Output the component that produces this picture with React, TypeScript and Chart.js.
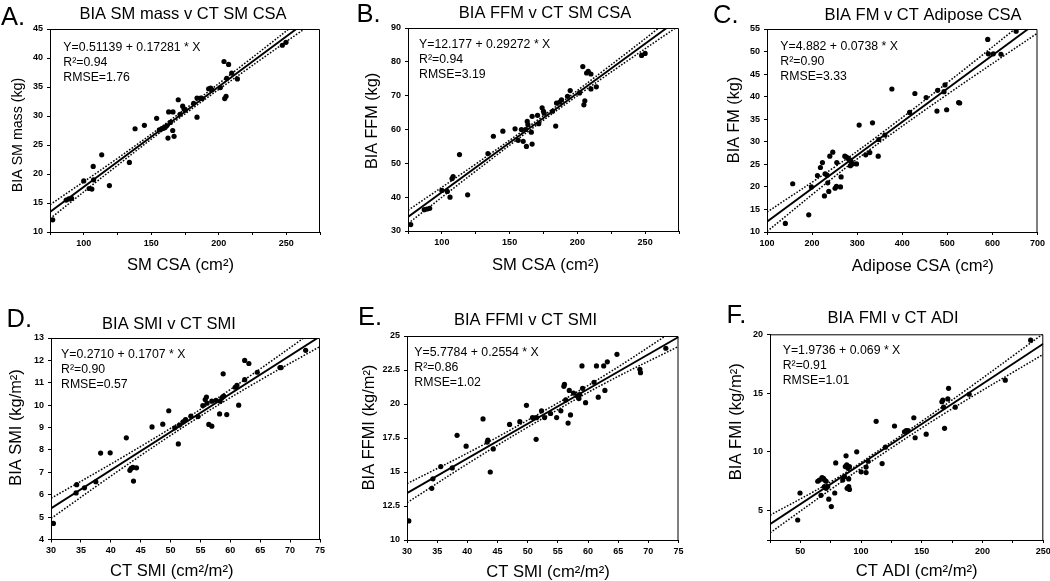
import React, { useEffect, useRef } from "react";
import { Chart, registerables } from "chart.js";

Chart.register(...registerables);

const FONT = "'Liberation Sans', Arial, Helvetica, sans-serif";

// ---------------- DATA ----------------
// Panel A: BIA SM mass v CT SM CSA
const aPoints = [
  [77, 12.1], [87, 15.5], [89, 15.7], [91, 15.8], [100, 18.8], [104, 17.5], [106, 17.4], [107, 21.3],
  [107.3, 19.0], [113.3, 23.3], [119, 18.0], [133.8, 22.0], [138, 27.8], [144.9, 28.4], [154, 29.6],
  [156, 27.6], [157.7, 27.8], [159, 27.9], [160.2, 28.0], [161.4, 28.3], [162.4, 26.2], [162.9, 30.7],
  [166.1, 30.7], [164.1, 28.9], [165.9, 27.5], [166.9, 26.5], [170, 32.8], [171.3, 30.3], [173.3, 31.7],
  [174.3, 31.2], [175.2, 31.0], [181.4, 32.2], [183.9, 29.8], [183.9, 33.1], [186.6, 33.1], [187.8, 33.0],
  [192.5, 34.7], [194, 34.8], [195, 34.5], [201.2, 34.9], [203.9, 39.4], [207.3, 38.9], [204.4, 33.0],
  [205.4, 33.4], [205.9, 36.5], [209.6, 37.4], [213.8, 36.4], [247.1, 42.2], [249.8, 42.7],
];
const aFit = [[75, 13.47], [275, 48.03]];
const aBandX = [75, 125, 170, 220, 275];
const aBandUp = [14.7, 22.7, 30.3, 39.2, 49.2];
const aBandLo = [12.3, 21.5, 29.5, 37.9, 46.9];

// Panel B: BIA FFM v CT SM CSA
const bPoints = [
  [77, 31.9], [87, 36.3], [89, 36.5], [91, 36.7], [100, 42.0], [104, 41.7], [106, 40.0], [107.5, 45.5],
  [108.3, 46.1], [113, 52.6], [119, 40.7], [134, 52.9], [138, 58.0], [145, 59.5], [154, 60.2],
  [156.3, 56.8], [158.7, 60.0], [160, 56.5], [161.7, 60.0], [162.4, 55.0], [163, 62.4], [163.5, 61.4],
  [166, 59.2], [166.6, 55.7], [166.6, 63.9], [170.6, 64.2], [171.5, 61.7], [174, 66.4], [175, 65.4],
  [175.5, 64.8], [181.6, 65.4], [184, 61.0], [184.6, 67.8], [187, 68.1], [188.3, 68.8], [192.7, 69.8],
  [194.7, 71.5], [201.6, 70.8], [204, 78.6], [204.8, 67.3], [205.5, 68.5], [206.8, 76.7], [208, 77.2],
  [210, 76.4], [210, 72.0], [214, 72.6], [247.4, 81.9], [250, 82.5],
];
const bFit = [[75, 34.13], [275, 92.67]];
const bBandX = [75, 125, 170, 220, 275];
const bBandUp = [36.1, 49.8, 62.6, 77.6, 94.6];
const bBandLo = [32.2, 47.7, 61.3, 75.6, 90.7];

// Panel C: BIA FM v CT Adipose CSA
const cPoints = [
  [140.7, 11.9], [157, 20.7], [192.6, 13.8], [198.5, 20.0], [211.9, 22.5], [218.5, 24.3], [223, 25.4],
  [227.4, 18.0], [228.9, 22.9], [233.3, 22.6], [234.8, 20.9], [237, 19.0], [239.3, 26.8], [245.9, 27.7],
  [251, 19.7], [254, 20.1], [254.8, 25.4], [263, 20.0], [264.4, 22.2], [272.6, 26.8], [276.3, 26.6],
  [280, 26.3], [283.7, 26.0], [286.7, 25.6], [289.6, 25.1], [285, 24.7], [298.5, 25.1], [304.4, 33.7],
  [319, 27.1], [328, 27.6], [334, 34.2], [346.7, 26.8], [348, 30.5], [361.5, 31.5], [377, 41.7],
  [416.3, 36.5], [428, 40.7], [453, 39.8], [477, 36.8], [478.5, 41.4], [492.6, 41.1], [494.8, 42.6],
  [498.5, 37.1], [525, 38.7], [527.4, 38.6], [589.6, 52.7], [591, 49.5], [602, 49.5], [619, 49.4],
  [652.6, 54.5],
];
const cFit = [[100, 12.26], [700, 56.54]];
const cBandX = [100, 250, 330, 500, 700];
const cBandUp = [14.4, 24.4, 30.1, 43.1, 59.0];
const cBandLo = [10.1, 22.3, 28.4, 40.5, 54.1];

// Panel D: BIA SMI v CT SMI
const dPoints = [
  [30.4, 4.72], [34.2, 6.08], [34.3, 6.45], [35.6, 6.31], [37.5, 6.58], [38.3, 7.86], [39.9, 7.87],
  [42.6, 8.54], [43.2, 7.09], [43.4, 7.18], [43.7, 7.22], [43.8, 6.61], [44.3, 7.2], [46.9, 9.03],
  [48.7, 9.15], [49.7, 9.75], [50.7, 8.99], [51.3, 8.27], [51.5, 9.11], [52.1, 9.26], [52.5, 9.36],
  [53.4, 9.51], [54.6, 9.49], [55.4, 9.98], [55.8, 10.25], [56.0, 10.36], [56.1, 10.09], [56.4, 9.14],
  [56.9, 9.06], [56.9, 10.18], [57.6, 10.22], [58.2, 9.61], [58.3, 10.18], [58.6, 10.33], [58.9, 10.4],
  [58.8, 11.4], [59.4, 9.58], [60.8, 10.8], [61.1, 10.88], [61.4, 10.0], [62.4, 11.14], [62.4, 12.0],
  [63.1, 11.86], [64.5, 11.47], [68.3, 11.68], [68.5, 11.68], [72.6, 12.45],
];
const dFit = [[30, 5.39], [75, 13.07]];
const dBandX = [30, 42, 53, 63, 75];
const dBandUp = [5.84, 7.68, 9.47, 11.25, 13.52];
const dBandLo = [4.94, 7.2, 9.17, 10.81, 12.62];

// Panel E: BIA FFMI v CT SMI
const ePoints = [
  [30.3, 11.4], [34.1, 13.8], [34.3, 14.5], [35.6, 15.4], [37.5, 15.3], [38.3, 17.7], [39.8, 16.9],
  [42.6, 18.9], [43.3, 17.2], [43.4, 17.35], [43.8, 15.0], [44.3, 16.7], [47, 18.5], [48.7, 18.7],
  [49.8, 19.9], [50.8, 19.0], [51.4, 17.4], [51.5, 19.0], [52.3, 19.5], [52.8, 19.0], [53.8, 19.3],
  [54.8, 19.0], [55.5, 19.5], [56.0, 21.3], [56.1, 21.45], [56.3, 20.3], [56.7, 18.6], [56.9, 21.0],
  [57.1, 19.2], [57.6, 20.8], [58.2, 20.6], [58.5, 20.4], [58.6, 20.7], [59.0, 22.8], [59.1, 21.15],
  [59.6, 20.1], [61, 21.6], [61.4, 22.8], [61.7, 20.5], [62.6, 22.8], [63.2, 23.1], [62.8, 21.0],
  [64.8, 23.65], [68.6, 22.55], [68.7, 22.3], [72.9, 24.1],
];
const eFit = [[30, 13.44], [75, 24.93]];
const eBandX = [30, 42, 53, 63, 75];
const eBandUp = [14.14, 16.85, 19.57, 22.17, 25.63];
const eBandLo = [12.74, 16.15, 19.07, 21.57, 24.23];

// Panel F: BIA FMI v CT ADI
const fPoints = [
  [47.8, 4.2], [49.7, 6.5], [64.3, 7.5], [65.7, 7.6], [67, 6.3], [67.8, 7.8], [69, 7.75], [70, 7.6],
  [71.2, 7.5], [69.8, 7.05], [71.2, 6.9], [72.5, 7.05], [73.4, 5.97], [75.5, 5.34], [78.3, 6.5],
  [79.1, 9.06], [84.9, 7.6], [86.3, 7.9], [87.6, 9.66], [87, 8.75], [88.2, 8.9], [89.3, 8.6], [90.4, 8.75],
  [89.8, 7.05], [88.5, 6.9], [90.4, 6.8], [89.8, 7.7], [96.4, 10.0], [100, 8.3], [104.1, 8.7],
  [104.1, 8.24], [105.8, 9.2], [112.4, 12.6], [117.3, 9.0], [120, 10.4], [127.5, 12.2], [135.7, 11.7],
  [137.1, 11.8], [138.5, 11.8], [143.4, 12.9], [144.5, 11.2], [153.6, 11.5], [166.5, 14.26],
  [167.3, 14.4], [167.9, 13.8], [168.7, 12.0], [172, 15.4], [171.4, 14.5], [177.5, 13.8], [189, 14.9],
  [218.7, 16.1], [239.6, 19.5],
];
const fFit = [[25, 3.85], [250, 19.2]];
const fBandX = [25, 75, 110, 170, 250];
const fBandUp = [4.6, 7.45, 9.8, 14.05, 20.05];
const fBandLo = [3.1, 6.8, 9.3, 13.35, 18.3];

// Axis ticks
const xTicksAB = [75, 100, 125, 150, 175, 200, 225, 250, 275];
const xLabelsAB = [100, 150, 200, 250];
const yTicksA = [10, 15, 20, 25, 30, 35, 40, 45];
const yTicksB = [30, 40, 50, 60, 70, 80, 90];
const xTicksC = [100, 200, 300, 400, 500, 600, 700];
const yTicksC = [10, 15, 20, 25, 30, 35, 40, 45, 50, 55];
const xTicksDE = [30, 35, 40, 45, 50, 55, 60, 65, 70, 75];
const yTicksD = [4, 5, 6, 7, 8, 9, 10, 11, 12, 13];
const yTicksE = [10, 12.5, 15, 17.5, 20, 22.5, 25];
const xTicksF = [25, 50, 75, 100, 125, 150, 175, 200, 225, 250];
const xLabelsF = [50, 100, 150, 200, 250];
const yTicksF = [2.5, 5, 10, 15, 20];
const yLabelsF = [5, 10, 15, 20];

// Texts
const letters = ["A.", "B.", "C.", "D.", "E.", "F."];
const titles = [
  "BIA SM mass v CT SM CSA",
  "BIA FFM v CT SM CSA",
  "BIA FM v CT Adipose CSA",
  "BIA SMI v CT SMI",
  "BIA FFMI v CT SMI",
  "BIA FMI v CT ADI",
];
const xTitles = ["SM CSA (cm²)", "SM CSA (cm²)", "Adipose CSA (cm²)", "CT SMI (cm²/m²)", "CT SMI (cm²/m²)", "CT ADI (cm²/m²)"];
const yTitles = ["BIA SM mass (kg)", "BIA FFM (kg)", "BIA FM (kg)", "BIA SMI (kg/m²)", "BIA FFMI (kg/m²)", "BIA FMI (kg/m²)"];
const equations = [
  "Y=0.51139 + 0.17281 * X",
  "Y=12.177 + 0.29272 * X",
  "Y=4.882 + 0.0738 * X",
  "Y=0.2710 + 0.1707 * X",
  "Y=5.7784 + 0.2554 * X",
  "Y=1.9736 + 0.069 * X",
];
const r2s = ["0.94", "0.94", "0.90", "0.90", "0.86", "0.91"];
const rmses = ["1.76", "3.19", "3.33", "0.57", "1.02", "1.01"];

// ---------------- PANEL CONFIG ----------------
type PanelData = {
  pts: number[][]; fit: number[][]; bandX: number[]; bandUp: number[]; bandLo: number[];
  xMin: number; xMax: number; xTicks: number[]; xLabels: number[];
  yMin: number; yMax: number; yTicks: number[]; yLabels: number[];
};

const panels: PanelData[] = [
  { pts: aPoints, fit: aFit, bandX: aBandX, bandUp: aBandUp, bandLo: aBandLo, xMin: 75, xMax: 275, xTicks: xTicksAB, xLabels: xLabelsAB, yMin: 10, yMax: 45, yTicks: yTicksA, yLabels: yTicksA },
  { pts: bPoints, fit: bFit, bandX: bBandX, bandUp: bBandUp, bandLo: bBandLo, xMin: 75, xMax: 275, xTicks: xTicksAB, xLabels: xLabelsAB, yMin: 30, yMax: 90, yTicks: yTicksB, yLabels: yTicksB },
  { pts: cPoints, fit: cFit, bandX: cBandX, bandUp: cBandUp, bandLo: cBandLo, xMin: 100, xMax: 700, xTicks: xTicksC, xLabels: xTicksC, yMin: 10, yMax: 55, yTicks: yTicksC, yLabels: yTicksC },
  { pts: dPoints, fit: dFit, bandX: dBandX, bandUp: dBandUp, bandLo: dBandLo, xMin: 30, xMax: 75, xTicks: xTicksDE, xLabels: xTicksDE, yMin: 4, yMax: 13, yTicks: yTicksD, yLabels: yTicksD },
  { pts: ePoints, fit: eFit, bandX: eBandX, bandUp: eBandUp, bandLo: eBandLo, xMin: 30, xMax: 75, xTicks: xTicksDE, xLabels: xTicksDE, yMin: 10, yMax: 25, yTicks: yTicksE, yLabels: yTicksE },
  { pts: fPoints, fit: fFit, bandX: fBandX, bandUp: fBandUp, bandLo: fBandLo, xMin: 25, xMax: 250, xTicks: xTicksF, xLabels: xLabelsF, yMin: 2.5, yMax: 20, yTicks: yTicksF, yLabels: yLabelsF },
];

// Layout (cell-local pixels)
type Lay = {
  col: number; row: number; plot: number[]; letter: number[]; title: number[];
  xTitle: number[]; yTitle: number[]; yTitleSize: number; ann: number[];
};
const layouts: Lay[] = [
  { col: 0, row: 0, plot: [50, 29, 320, 232], letter: [1, 25], title: [183, 19], xTitle: [180.5, 265], yTitle: [18.3, 135], yTitleSize: 14.2, ann: [13.3, 21.7] },
  { col: 1, row: 0, plot: [58, 28, 329, 231], letter: [6.5, 22], title: [195, 17.5], xTitle: [195.5, 265], yTitle: [23, 121], yTitleSize: 16.2, ann: [11, 20] },
  { col: 2, row: 0, plot: [67, 29, 337.5, 232], letter: [13, 23.3], title: [223, 20], xTitle: [222.7, 266.7], yTitle: [35, 120], yTitleSize: 16.2, ann: [13.3, 21] },
  { col: 0, row: 1, plot: [51, 48, 320, 249.5], letter: [6.5, 37], title: [169, 38.5], xTitle: [171.7, 281.7], yTitle: [16.7, 137.5], yTitleSize: 16.4, ann: [10, 20] },
  { col: 1, row: 1, plot: [57, 46, 328.5, 250], letter: [8, 35], title: [175.5, 35], xTitle: [198, 282.7], yTitle: [19.3, 137.5], yTitleSize: 16.4, ann: [7.3, 20] },
  { col: 2, row: 1, plot: [70, 44.3, 343.3, 250], letter: [26.5, 33.3], title: [193, 33], xTitle: [216.7, 281.7], yTitle: [36, 131.7], yTitleSize: 16.6, ann: [12.7, 19.3] },
];

const CELL_W = 350;
const CELL_H = [290, 291];

const textPlugin = {
  id: "panelText",
  afterDraw(chart: any, _args: any, opts: any) {
    const ctx = chart.ctx as CanvasRenderingContext2D;
    const ca = chart.chartArea;
    const lay: Lay = opts.lay;
    const i: number = opts.index;
    ctx.save();
    // frame (top and right sides)
    ctx.strokeStyle = "#000";
    ctx.lineWidth = 1;
    ctx.beginPath();
    ctx.moveTo(ca.left, ca.top + 0.5);
    ctx.lineTo(ca.right - 0.5, ca.top + 0.5);
    ctx.lineTo(ca.right - 0.5, ca.bottom);
    ctx.stroke();

    ctx.fillStyle = "#000";
    // letter
    ctx.font = `25.5px ${FONT}`;
    ctx.textAlign = "left";
    ctx.textBaseline = "alphabetic";
    ctx.fillText(letters[i], lay.letter[0], lay.letter[1]);
    // title
    ctx.font = `16.5px ${FONT}`;
    ctx.textAlign = "center";
    ctx.fillText(titles[i], lay.title[0], lay.title[1]);
    // x title
    ctx.font = `16.6px ${FONT}`;
    ctx.textBaseline = "middle";
    ctx.fillText(xTitles[i], lay.xTitle[0], lay.xTitle[1]);
    // y title
    ctx.save();
    ctx.translate(lay.yTitle[0], lay.yTitle[1]);
    ctx.rotate(-Math.PI / 2);
    ctx.font = `${lay.yTitleSize}px ${FONT}`;
    ctx.fillText(yTitles[i], 0, 0);
    ctx.restore();
    // annotations
    ctx.font = `12.3px ${FONT}`;
    ctx.textAlign = "left";
    ctx.textBaseline = "alphabetic";
    const lines = [equations[i], `R²=${r2s[i]}`, `RMSE=${rmses[i]}`];
    lines.forEach((t, k) => {
      ctx.fillText(t, ca.left + lay.ann[0], ca.top + lay.ann[1] + k * 15);
    });
    ctx.restore();
  },
};

function PanelChart({ index }: { index: number }) {
  const ref = useRef<HTMLCanvasElement | null>(null);
  const p = panels[index];
  const lay = layouts[index];
  const h = CELL_H[lay.row];
  useEffect(() => {
    if (!ref.current) return;
    const [pl, pt, pr, pb] = lay.plot;
    const tickFont = { family: FONT, size: 9, weight: "bold" as const };
    const chart = new Chart(ref.current, {
      type: "scatter",
      data: {
        datasets: [
          {
            data: p.pts.map(([x, y]) => ({ x, y })),
            pointRadius: 2.6,
            pointBackgroundColor: "#000",
            pointBorderColor: "#000",
            pointBorderWidth: 0,
            showLine: false,
          },
          {
            data: p.fit.map(([x, y]) => ({ x, y })),
            showLine: true,
            borderColor: "#000",
            borderWidth: 1.9,
            pointRadius: 0,
          },
          {
            data: p.bandX.map((x, k) => ({ x, y: p.bandUp[k] })),
            showLine: true,
            borderColor: "#000",
            borderWidth: 1.5,
            borderDash: [1.6, 1.6],
            pointRadius: 0,
            tension: 0.4,
          },
          {
            data: p.bandX.map((x, k) => ({ x, y: p.bandLo[k] })),
            showLine: true,
            borderColor: "#000",
            borderWidth: 1.5,
            borderDash: [1.6, 1.6],
            pointRadius: 0,
            tension: 0.4,
          },
        ] as any,
      },
      options: {
        animation: false,
        responsive: false,
        events: [],
        layout: { padding: { left: 0, top: pt, right: CELL_W - pr, bottom: 0 } },
        plugins: {
          legend: { display: false },
          tooltip: { enabled: false },
          panelText: { lay, index },
        } as any,
        scales: {
          x: {
            type: "linear",
            min: p.xMin,
            max: p.xMax,
            afterBuildTicks: (s: any) => {
              s.ticks = p.xTicks.map((v) => ({ value: v }));
            },
            afterFit: (s: any) => {
              s.height = h - pb;
              s.paddingLeft = 0;
              s.paddingRight = 0;
            },
            ticks: {
              autoSkip: false,
              maxRotation: 0,
              padding: 3,
              color: "#000",
              font: tickFont,
              callback: (v: any) => (p.xLabels.includes(Number(v)) ? String(v) : ""),
            },
            grid: { drawOnChartArea: false, drawTicks: true, tickLength: 3, color: "#000" },
            border: { color: "#000", width: 1 },
          },
          y: {
            type: "linear",
            min: p.yMin,
            max: p.yMax,
            afterBuildTicks: (s: any) => {
              s.ticks = p.yTicks.map((v) => ({ value: v }));
            },
            afterFit: (s: any) => {
              s.width = pl;
              s.paddingTop = 0;
              s.paddingBottom = 0;
            },
            ticks: {
              autoSkip: false,
              padding: 4,
              color: "#000",
              font: tickFont,
              callback: (v: any) => (p.yLabels.includes(Number(v)) ? String(v) : ""),
            },
            grid: { drawOnChartArea: false, drawTicks: true, tickLength: 3, color: "#000" },
            border: { color: "#000", width: 1 },
          },
        } as any,
      },
      plugins: [textPlugin as any],
    });
    return () => chart.destroy();
  }, []);
  return (
    <div style={{ position: "absolute", left: lay.col * CELL_W, top: lay.row * 290, width: CELL_W, height: h }}>
      <canvas ref={ref} width={CELL_W} height={h} style={{ width: CELL_W, height: h, display: "block" }} />
    </div>
  );
}

export default function App() {
  return (
    <div style={{ position: "absolute", left: 0, top: 0, width: 1050, height: 581, background: "#fff", overflow: "hidden" }}>
      {panels.map((_, i) => (
        <PanelChart key={i} index={i} />
      ))}
    </div>
  );
}
